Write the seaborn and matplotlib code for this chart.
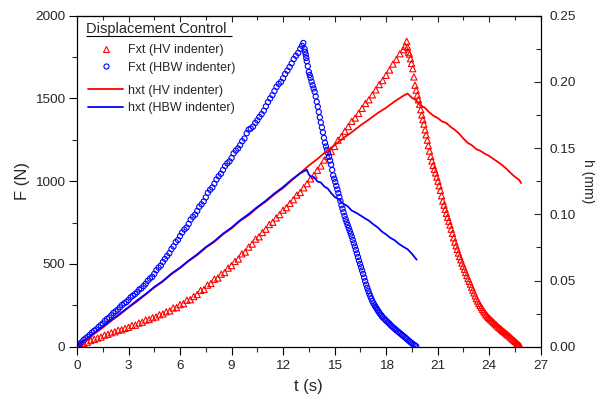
import matplotlib
matplotlib.use("Agg")
import matplotlib.pyplot as plt
import seaborn as sns
from matplotlib.lines import Line2D
from matplotlib.ticker import MultipleLocator, FormatStrFormatter

# ---- data ----
# F(t), HV indenter (triangles)
t_f_hv = [0.0, 0.2, 0.4, 0.6, 0.8, 1.0, 1.2, 1.4, 1.6, 1.8, 2.0, 2.2, 2.4, 2.6, 2.8, 3.0,
          3.2, 3.4, 3.6, 3.8, 4.0, 4.2, 4.4, 4.6, 4.8, 5.0, 5.2, 5.4, 5.6, 5.8, 6.0, 6.2,
          6.4, 6.6, 6.8, 7.0, 7.2, 7.4, 7.6, 7.8, 8.0, 8.2, 8.4, 8.6, 8.8, 9.0, 9.2, 9.4,
          9.6, 9.8, 10.0, 10.2, 10.4, 10.6, 10.8, 11.0, 11.2, 11.4, 11.6, 11.8, 12.0, 12.2,
          12.4, 12.6, 12.8, 13.0, 13.2, 13.4, 13.6, 13.8, 14.0, 14.2, 14.4, 14.6, 14.8,
          15.0, 15.2, 15.4, 15.6, 15.8, 16.0, 16.2, 16.4, 16.6, 16.8, 17.0, 17.2, 17.4,
          17.6, 17.8, 18.0, 18.2, 18.4, 18.6, 18.8, 19.0, 19.1, 19.2,
          19.25, 19.3, 19.36, 19.42, 19.48, 19.55, 19.62, 19.68, 19.75, 19.82, 19.88, 19.95,
          20.02, 20.08, 20.14, 20.2, 20.27, 20.33, 20.4, 20.46, 20.53, 20.6, 20.67, 20.74,
          20.81, 20.88, 20.95, 21.02, 21.09, 21.16, 21.23, 21.3, 21.37, 21.44, 21.51, 21.58,
          21.65, 21.72, 21.79, 21.86, 21.93, 22.0, 22.07, 22.14, 22.21, 22.28, 22.35, 22.42,
          22.49, 22.56, 22.63, 22.7, 22.77, 22.84, 22.91, 22.98, 23.05, 23.12, 23.19, 23.26,
          23.33, 23.4, 23.47, 23.54, 23.61, 23.68, 23.75, 23.82, 23.89, 23.96, 24.03, 24.1,
          24.17, 24.25, 24.32, 24.4, 24.47, 24.55, 24.62, 24.7, 24.77, 24.85, 24.92, 25.0,
          25.07, 25.15, 25.22, 25.3, 25.37, 25.45, 25.52, 25.6, 25.66, 25.72, 25.77, 25.82]
f_hv = [3, 12, 20, 27, 37, 44, 52, 58, 70, 75, 84, 90, 99, 102, 110, 117,
        128, 130, 143, 148, 161, 164, 175, 180, 193, 198, 211, 216, 234, 236, 254, 260,
        281, 284, 303, 315, 340, 346, 372, 382, 408, 415, 438, 448, 475, 490, 515, 530,
        561, 572, 602, 620, 650, 664, 690, 710, 738, 752, 778, 798, 825, 840,
        866, 888, 916, 932, 960, 985, 1014, 1035, 1066, 1092, 1128, 1150, 1180,
        1210, 1248, 1270, 1302, 1330, 1362, 1382, 1410, 1440, 1470, 1492, 1522, 1552,
        1584, 1608, 1640, 1672, 1708, 1735, 1770, 1795, 1815, 1845,
        1810, 1780, 1768, 1740, 1712, 1680, 1630, 1580, 1550, 1520, 1492, 1465,
        1432, 1400, 1372, 1345, 1310, 1280, 1248, 1215, 1182, 1150, 1122, 1095,
        1072, 1050, 1025, 1000, 972, 945, 912, 880, 855, 830, 806, 782,
        758, 735, 710, 685, 658, 632, 610, 588, 566, 545, 525, 505,
        486, 468, 449, 430, 412, 395, 378, 360, 342, 325, 307, 290,
        276, 262, 250, 238, 226, 215, 204, 193, 185, 177, 170, 162,
        155, 148, 140, 133, 125, 118, 112, 105, 98, 92, 85, 78,
        72, 66, 59, 52, 45, 38, 31, 24, 18, 12, 7, 2]

# F(t), HBW indenter (circles)
t_f_hbw = [0.0, 0.12, 0.25, 0.38, 0.5, 0.62, 0.75, 0.88, 1.0, 1.12, 1.25, 1.38, 1.5, 1.62,
           1.75, 1.88, 2.0, 2.12, 2.25, 2.38, 2.5, 2.62, 2.75, 2.88, 3.0, 3.12, 3.25, 3.38,
           3.5, 3.62, 3.75, 3.88, 4.0, 4.12, 4.25, 4.38, 4.5, 4.62, 4.75, 4.88, 5.0, 5.12,
           5.25, 5.38, 5.5, 5.62, 5.75, 5.88, 6.0, 6.12, 6.25, 6.38, 6.5, 6.62, 6.75, 6.88,
           7.0, 7.12, 7.25, 7.38, 7.5, 7.62, 7.75, 7.88, 8.0, 8.12, 8.25, 8.38, 8.5, 8.62,
           8.75, 8.88, 9.0, 9.12, 9.25, 9.38, 9.5, 9.62, 9.75, 9.88, 10.0, 10.12, 10.25,
           10.38, 10.5, 10.62, 10.75, 10.88, 11.0, 11.12, 11.25, 11.38, 11.5, 11.62, 11.75,
           11.88, 12.0, 12.12, 12.25, 12.38, 12.5, 12.62, 12.75, 12.88, 13.0, 13.1, 13.18,
           13.25, 13.28, 13.32, 13.35, 13.38, 13.44, 13.5, 13.55, 13.6, 13.66, 13.72, 13.78,
           13.84, 13.9, 13.96, 14.02, 14.08, 14.14, 14.2, 14.26, 14.32, 14.38, 14.44, 14.5,
           14.56, 14.62, 14.68, 14.74, 14.8, 14.86, 14.92, 14.98, 15.04, 15.1, 15.16, 15.22,
           15.28, 15.34, 15.4, 15.46, 15.52, 15.58, 15.64, 15.7, 15.76, 15.82, 15.88, 15.94,
           16.0, 16.06, 16.12, 16.18, 16.24, 16.3, 16.36, 16.42, 16.48, 16.54, 16.6, 16.66,
           16.72, 16.78, 16.84, 16.9, 16.96, 17.02, 17.08, 17.14, 17.2, 17.26, 17.32, 17.38,
           17.44, 17.5, 17.56, 17.62, 17.68, 17.74, 17.8, 17.88, 17.95, 18.02, 18.1, 18.18,
           18.25, 18.32, 18.4, 18.48, 18.55, 18.62, 18.7, 18.78, 18.85, 18.92, 19.0, 19.08,
           19.15, 19.22, 19.3, 19.38, 19.45, 19.52, 19.6, 19.68, 19.75]
f_hbw = [6, 14, 25, 40, 50, 60, 72, 86, 96, 104, 118, 130, 140, 156,
         168, 176, 190, 204, 214, 224, 238, 252, 262, 270, 282, 298, 308, 318,
         330, 345, 352, 366, 380, 398, 412, 422, 440, 462, 478, 490, 512, 530,
         548, 565, 590, 606, 632, 645, 668, 690, 708, 720, 742, 768, 785, 798,
         820, 845, 860, 878, 902, 930, 948, 962, 985, 1010, 1030, 1045, 1068, 1092,
         1108, 1120, 1140, 1168, 1185, 1198, 1218, 1242, 1258, 1290, 1312, 1318, 1330,
         1352, 1368, 1388, 1405, 1426, 1452, 1478, 1500, 1520, 1545, 1570, 1588,
         1600, 1622, 1648, 1668, 1690, 1712, 1738, 1758, 1775, 1800, 1818, 1835,
         1800, 1782, 1765, 1745, 1725, 1695, 1660, 1642, 1625, 1602, 1580, 1560,
         1540, 1512, 1480, 1450, 1418, 1386, 1355, 1325, 1295, 1262, 1232, 1210,
         1190, 1170, 1148, 1125, 1100, 1068, 1035, 1015, 995, 972, 950, 928,
         905, 880, 855, 834, 812, 790, 770, 752, 735, 718, 700, 683,
         665, 645, 625, 605, 585, 563, 542, 520, 500, 480, 460, 440,
         418, 396, 375, 356, 338, 321, 305, 290, 275, 263, 252, 242,
         232, 222, 212, 203, 194, 186, 178, 170, 163, 155, 148, 140,
         132, 124, 117, 110, 104, 97, 91, 84, 78, 71, 65, 58,
         52, 45, 38, 31, 25, 19, 13, 8, 3]

# h(t), HV indenter (red line)
t_h_hv = [0.0, 0.5, 1.0, 1.5, 2.0, 2.5, 3.0, 3.5, 4.0, 4.5, 5.0, 5.5, 6.0, 6.5, 7.0, 7.5,
          8.0, 8.5, 9.0, 9.5, 10.0, 10.5, 11.0, 11.5, 12.0, 12.5, 13.0, 13.5, 14.0, 14.5,
          15.0, 15.5, 16.0, 16.5, 17.0, 17.5, 18.0, 18.5, 19.0, 19.25,
          19.5, 19.75, 20.0, 20.25, 20.5, 20.75, 21.0, 21.25, 21.5, 21.75, 22.0, 22.25,
          22.5, 22.75, 23.0, 23.25, 23.5, 23.75, 24.0, 24.25, 24.5, 24.75, 25.0, 25.25,
          25.5, 25.75, 25.86]
h_hv = [0.0000, 0.0046, 0.0097, 0.0144, 0.0196, 0.0243, 0.0297, 0.0342, 0.0396, 0.0447,
        0.0493, 0.0548, 0.0594, 0.0647, 0.0692, 0.0748, 0.0793, 0.0849, 0.0893, 0.0951,
        0.0994, 0.1050, 0.1097, 0.1151, 0.1198, 0.1256, 0.1312, 0.1368, 0.1418, 0.1474,
        0.1523, 0.1575, 0.1620, 0.1671, 0.1716, 0.1764, 0.1805, 0.1853, 0.1895, 0.1912,
        0.1880, 0.1862, 0.1822, 0.1806, 0.1772, 0.1745, 0.1728, 0.1702, 0.1690, 0.1661,
        0.1638, 0.1610, 0.1572, 0.1540, 0.1521, 0.1492, 0.1479, 0.1457, 0.1441, 0.1418,
        0.1396, 0.1372, 0.1345, 0.1312, 0.1283, 0.1260, 0.1236]

# h(t), HBW indenter (blue line)
t_h_hbw = [0.0, 0.5, 1.0, 1.5, 2.0, 2.5, 3.0, 3.5, 4.0, 4.5, 5.0, 5.5, 6.0, 6.5, 7.0, 7.5,
           8.0, 8.5, 9.0, 9.5, 10.0, 10.5, 11.0, 11.5, 12.0, 12.5, 13.0, 13.38,
           13.5, 13.6, 13.8, 14.0, 14.2, 14.4, 14.6, 14.8, 15.0, 15.25, 15.5, 15.75, 16.0,
           16.25, 16.5, 16.75, 17.0, 17.25, 17.5, 17.75, 18.0, 18.25, 18.5, 18.75, 19.0,
           19.25, 19.5, 19.78]
h_hbw = [0.0005, 0.0055, 0.0104, 0.0152, 0.0201, 0.0250, 0.0298, 0.0350, 0.0397, 0.0451,
         0.0496, 0.0552, 0.0597, 0.0650, 0.0698, 0.0752, 0.0797, 0.0853, 0.0900, 0.0955,
         0.1002, 0.1055, 0.1103, 0.1158, 0.1206, 0.1262, 0.1310, 0.1337,
         0.1300, 0.1288, 0.1281, 0.1248, 0.1240, 0.1210, 0.1195, 0.1160, 0.1132, 0.1112,
         0.1080, 0.1062, 0.1028, 0.1012, 0.0992, 0.0971, 0.0952, 0.0925, 0.0902, 0.0870,
         0.0848, 0.0822, 0.0804, 0.0776, 0.0755, 0.0736, 0.0702, 0.0657]

labels = ["Fxt (HV indenter)", "Fxt (HBW indenter)", "hxt (HV indenter)", "hxt (HBW indenter)"]
legend_title = "Displacement Control"

# ---- style ----
sns.set_style("ticks")
plt.rcParams["font.family"] = ["Liberation Sans", "DejaVu Sans"]
plt.rcParams["axes.linewidth"] = 0.8

fig = plt.figure(figsize=(5.95, 4.03), dpi=100)
ax = fig.add_axes([0.1294, 0.1397, 0.7793, 0.8213])
ax2 = ax.twinx()

sns.scatterplot(x=t_f_hv, y=f_hv, ax=ax, marker="^", s=20, facecolor="none",
                edgecolor="red", linewidth=0.8, zorder=3)
sns.scatterplot(x=t_f_hbw, y=f_hbw, ax=ax, marker="o", s=14, facecolor="none",
                edgecolor="blue", linewidth=0.8, zorder=3)
sns.lineplot(x=t_h_hv, y=h_hv, ax=ax2, color="red", linewidth=1.3)
sns.lineplot(x=t_h_hbw, y=h_hbw, ax=ax2, color="blue", linewidth=1.3)

ax.set_xlim(0, 27)
ax.set_ylim(0, 2000)
ax2.set_ylim(0, 0.25)
ax.xaxis.set_major_locator(MultipleLocator(3))
ax.xaxis.set_minor_locator(MultipleLocator(1.5))
ax.yaxis.set_major_locator(MultipleLocator(500))
ax.yaxis.set_minor_locator(MultipleLocator(250))
ax2.yaxis.set_major_locator(MultipleLocator(0.05))
ax2.yaxis.set_minor_locator(MultipleLocator(0.025))
ax2.yaxis.set_major_formatter(FormatStrFormatter("%.2f"))

ax.tick_params(axis="both", which="major", direction="out", length=6, width=0.8,
               labelsize=9.7, color="black")
ax.tick_params(axis="both", which="minor", direction="out", length=3.5, width=0.8)
ax.tick_params(axis="y", pad=2.4)
ax.tick_params(axis="x", pad=3.6)
ax2.tick_params(axis="y", which="major", direction="in", length=5.3, width=0.8,
                labelsize=9.7, pad=6)
ax2.tick_params(axis="y", which="minor", direction="in", length=3.4, width=0.8)

top = ax.secondary_xaxis("top")
top.xaxis.set_major_locator(MultipleLocator(3))
top.xaxis.set_minor_locator(MultipleLocator(1.5))
top.tick_params(which="major", direction="in", length=4, width=0.8, labeltop=False)
top.tick_params(which="minor", direction="in", length=3, width=0.8)
top.spines["top"].set_linewidth(0.8)

for a in (ax, ax2):
    for s in a.spines.values():
        s.set_linewidth(0.8)
        s.set_color("black")

ax.set_xlabel("t (s)", fontsize=12, labelpad=5)
ax.set_ylabel("F (N)", fontsize=12, labelpad=4)
ax2.set_ylabel("h (mm)", fontsize=10, rotation=270, va="bottom", labelpad=4)

# ---- legends ----
h1 = [Line2D([], [], ls="none", marker="^", ms=4.3, mfc="none", mec="red", mew=0.8),
      Line2D([], [], ls="none", marker="o", ms=3.7, mfc="none", mec="blue", mew=0.8)]
h2 = [Line2D([], [], color="red", lw=1.3), Line2D([], [], color="blue", lw=1.3)]
leg_kw = dict(loc="upper left", frameon=False, fontsize=9, handlelength=2.8,
              handletextpad=0.35, borderpad=0, borderaxespad=0, labelspacing=0.45)
leg1 = ax2.legend(h1, labels[:2], bbox_to_anchor=(0.0244, 0.914), **leg_kw)
ax2.add_artist(leg1)
ax2.legend(h2, labels[2:], bbox_to_anchor=(0.0244, 0.792), **leg_kw)

ax2.text(0.0194, 0.9468, legend_title, transform=ax2.transAxes, fontsize=10.5,
         ha="left", va="baseline")
ax2.plot([0.0194, 0.3336], [0.940, 0.940], transform=ax2.transAxes, color="black",
         lw=0.8, solid_capstyle="butt")

fig.savefig("out.png", dpi=100)
